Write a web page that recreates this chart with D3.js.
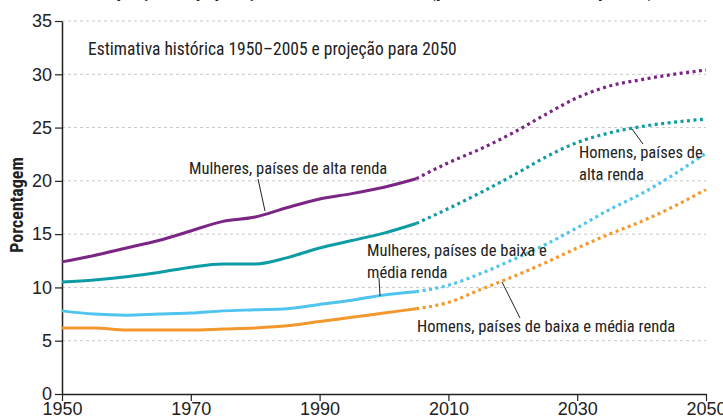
<!DOCTYPE html>
<html>
<head>
<meta charset="utf-8">
<script src="https://cdn.jsdelivr.net/npm/d3@7"></script>
<style>
  body { margin: 0; background: #fff; }
  text { font-family: "Liberation Sans Narrow", "Arial Narrow", "Roboto Condensed", sans-serif; fill: #222; }
</style>
</head>
<body>
<script>
document.addEventListener('DOMContentLoaded', function() {

  var years = [1950, 1955, 1960, 1965, 1970, 1975, 1980, 1985, 1990, 1995, 2000, 2005,
               2010, 2015, 2020, 2025, 2030, 2035, 2040, 2045, 2050];
  var mulheresAlta = [12.4, 13.0, 13.7, 14.4, 15.3, 16.2, 16.6, 17.5, 18.3, 18.8, 19.4, 20.2,
                      21.7, 23.0, 24.5, 26.2, 27.8, 28.9, 29.5, 30.0, 30.4];
  var homensAlta = [10.5, 10.7, 11.0, 11.4, 11.9, 12.2, 12.2, 12.8, 13.7, 14.4, 15.1, 16.0,
                    17.4, 18.9, 20.5, 22.2, 23.6, 24.5, 25.1, 25.5, 25.8];
  var mulheresBaixa = [7.8, 7.5, 7.4, 7.5, 7.6, 7.8, 7.9, 8.0, 8.4, 8.8, 9.3, 9.6,
                       10.2, 11.3, 12.6, 14.0, 15.6, 17.3, 18.8, 20.6, 22.6];
  var homensBaixa = [6.2, 6.2, 6.0, 6.0, 6.0, 6.1, 6.2, 6.4, 6.8, 7.2, 7.6, 8.0,
                     8.6, 9.8, 11.0, 12.3, 13.7, 15.0, 16.2, 17.6, 19.2];
  var yTicks = [0, 5, 10, 15, 20, 25, 30, 35];
  var xTicks = [1950, 1970, 1990, 2010, 2030, 2050];
  var lastHistoric = 2005;

  var series = [
    {name: 'mulheresAlta', values: mulheresAlta, color: '#7b2585'},
    {name: 'homensAlta', values: homensAlta, color: '#0e9ca4'},
    {name: 'mulheresBaixa', values: mulheresBaixa, color: '#4fc4ef'},
    {name: 'homensBaixa', values: homensBaixa, color: '#f3982c'}
  ];

  var svg = d3.select('body').append('svg').attr('width', 723).attr('height', 420);

  var x = d3.scaleLinear().domain([1950, 2050]).range([62, 706]);
  var y = d3.scaleLinear().domain([0, 35]).range([394, 21]);

  // title, cut off by the top edge as in the original
  svg.append('text')
    .attr('x', 372).attr('y', -3)
    .attr('text-anchor', 'middle')
    .style('font-size', '19px').style('font-weight', 'bold')
    .text('Proporção da população de 65 anos ou mais (por sexo e renda dos países)');

  // grid
  svg.selectAll('line.grid')
    .data(yTicks.filter(function(d) { return d > 0; }))
    .enter().append('line')
    .attr('class', 'grid')
    .attr('x1', 62).attr('x2', 706)
    .attr('y1', function(d) { return y(d); })
    .attr('y2', function(d) { return y(d); })
    .attr('stroke', '#c8c8c8')
    .attr('stroke-width', 1)
    .attr('stroke-dasharray', '3,3');

  var yAxis = svg.append('g')
    .attr('transform', 'translate(62,0)')
    .call(d3.axisLeft(y).tickValues(yTicks).tickSize(7).tickSizeOuter(0).tickPadding(3));
  yAxis.select('.domain').attr('stroke', '#222').attr('stroke-width', 1.5);
  yAxis.selectAll('.tick line').attr('stroke', '#222').attr('stroke-width', 1.2);
  yAxis.selectAll('.tick text')
    .style('font-size', '18px').style('font-family', '"Liberation Sans Narrow", sans-serif').attr('fill', '#222');

  var xAxis = svg.append('g')
    .attr('transform', 'translate(0,394)')
    .call(d3.axisBottom(x).tickValues(xTicks).tickFormat(d3.format('d')).tickSize(7).tickSizeOuter(0).tickPadding(1));
  xAxis.select('.domain').attr('stroke', '#222').attr('stroke-width', 1.5);
  xAxis.selectAll('.tick line').attr('stroke', '#222').attr('stroke-width', 1.2);
  xAxis.selectAll('.tick text')
    .style('font-size', '18px').style('font-family', '"Liberation Sans Narrow", sans-serif').attr('fill', '#222');

  // y label
  svg.append('text')
    .attr('transform', 'translate(23,205) rotate(-90)')
    .attr('text-anchor', 'middle')
    .style('font-size', '18px').style('font-weight', 'bold')
    .text('Porcentagem');

  svg.append('text')
    .attr('x', 88).attr('y', 55)
    .style('font-size', '17.5px')
    .text('Estimativa histórica 1950–2005 e projeção para 2050');

  var line = d3.line()
    .x(function(d) { return x(d.year); })
    .y(function(d) { return y(d.value); })
    .curve(d3.curveMonotoneX);

  series.forEach(function(s) {
    var pts = years.map(function(yr, i) { return {year: yr, value: s.values[i]}; });
    var hist = pts.filter(function(d) { return d.year <= lastHistoric; });
    var proj = pts.filter(function(d) { return d.year >= lastHistoric; });
    svg.append('path').datum(proj)
      .attr('d', line).attr('fill', 'none')
      .attr('stroke', s.color).attr('stroke-width', 3.2)
      .attr('stroke-dasharray', '3,3.5');
    svg.append('path').datum(hist)
      .attr('d', line).attr('fill', 'none')
      .attr('stroke', s.color).attr('stroke-width', 3);
  });

  // annotations
  var notes = [
    {lines: ['Mulheres, países de alta renda'], x: 189, y: 174, lead: [258, 179, 265, 211]},
    {lines: ['Mulheres, países de baixa e', 'média renda'], x: 367, y: 256, lead: [379, 278, 380, 296]},
    {lines: ['Homens, países de baixa e média renda'], x: 417, y: 332, lead: [502, 282, 520, 318]},
    {lines: ['Homens, países de', 'alta renda'], x: 579, y: 158, lead: [632, 129, 643, 144]}
  ];
  notes.forEach(function(n) {
    svg.append('line')
      .attr('x1', n.lead[0]).attr('y1', n.lead[1])
      .attr('x2', n.lead[2]).attr('y2', n.lead[3])
      .attr('stroke', '#222').attr('stroke-width', 1);
    n.lines.forEach(function(t, i) {
      svg.append('text')
        .attr('x', n.x).attr('y', n.y + i * 22)
        .style('font-size', '16.5px')
        .text(t);
    });
  });

});
</script>
</body>
</html>
